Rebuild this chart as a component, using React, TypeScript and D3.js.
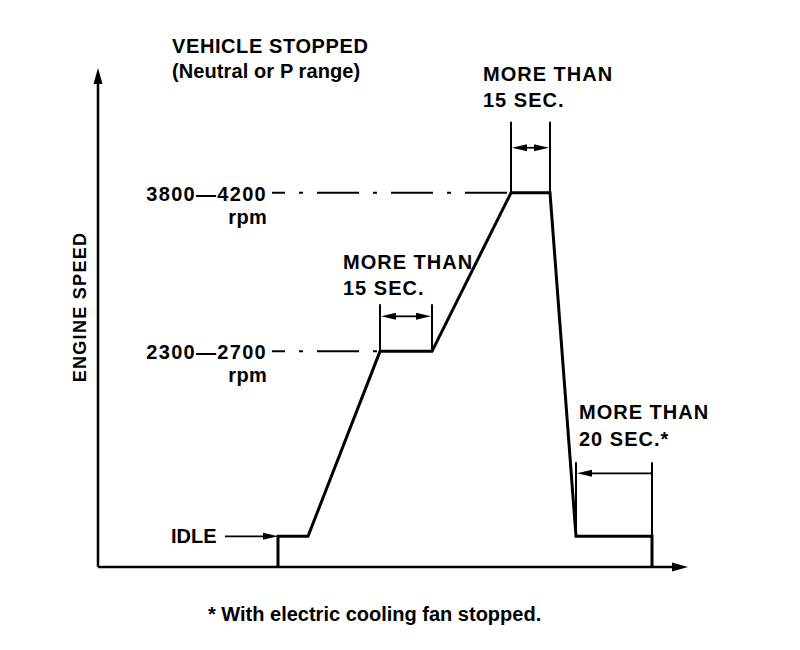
import React from "react";
import * as d3 from "d3";

// ---- data (schematic engine-speed procedure) ----
const timeDomain = [0, 118];
const rpmDomain = [460, 5180];
const phaseTimes = [36, 42, 56.4, 66.8, 82.6, 90.4, 95.6, 110.8];
const phaseRpm = [750, 750, 2500, 2500, 4000, 4000, 750, 750];
const levelRpm = [4000, 2500];
const levelText = ["3800\u20144200", "2300\u20142700"];
const levelUnit = ["rpm", "rpm"];
const holdStart = [56.4, 82.6, 95.6];
const holdEnd = [66.8, 90.4, 110.8];
const holdRpm = [2500, 4000, 750];
const holdLine1 = ["MORE THAN", "MORE THAN", "MORE THAN"];
const holdLine2 = ["15 SEC.", "15 SEC.", "20 SEC.*"];
const holdArrow = ["both", "both", "left"];
const idleRpm = 750;
const idleText = "IDLE";
const titleLines = ["VEHICLE STOPPED", "(Neutral or P range)"];
const yAxisTitle = "ENGINE SPEED";
const footnote = "* With electric cooling fan stopped.";

const W = 800;
const H = 650;
const FONT = "'Liberation Sans', Arial, Helvetica, sans-serif";

// layout for hold annotations
const holdLayout = [
  { tickUp: 47, arrowUp: 35, tx: -37, ty1: 269, ty2: 295 },
  { tickUp: 71, arrowUp: 45, tx: -28, ty1: 81, ty2: 107 },
  { tickUp: 74, arrowUp: 63, tx: 3, ty1: 419, ty2: 446 },
];

function Txt(props: any) {
  const { children, ls = 0, size = 20, ...rest } = props;
  return (
    <text
      fontFamily={FONT}
      fontSize={size}
      fontWeight="bold"
      letterSpacing={ls}
      fill="#000"
      {...rest}
    >
      {children}
    </text>
  );
}

export default function App() {
  const x = d3.scaleLinear().domain(timeDomain).range([98, 688]);
  const y = d3.scaleLinear().domain(rpmDomain).range([567, 68]);
  const x0 = x(timeDomain[0]);
  const y0 = y(rpmDomain[0]);
  const xEnd = x(timeDomain[1]);
  const yTop = y(rpmDomain[1]);

  const pts: [number, number][] = [
    [phaseTimes[0], rpmDomain[0]],
    ...phaseTimes.map((t, i) => [t, phaseRpm[i]] as [number, number]),
    [phaseTimes[phaseTimes.length - 1], rpmDomain[0]],
  ];
  const line = d3
    .line<[number, number]>()
    .x((d) => x(d[0]))
    .y((d) => y(d[1]));

  const head = (tx: number, ty: number, dir: "l" | "r" | "u", len = 14, hw = 4.5) => {
    if (dir === "r") return `M${tx},${ty} L${tx - len},${ty - hw} L${tx - len},${ty + hw} Z`;
    if (dir === "l") return `M${tx},${ty} L${tx + len},${ty - hw} L${tx + len},${ty + hw} Z`;
    return `M${tx},${ty} L${tx - hw},${ty + len} L${tx + hw},${ty + len} Z`;
  };

  const firstX = x(phaseTimes[0]);
  const idleY = y(idleRpm);

  return (
    <svg
      width={W}
      height={H}
      viewBox={`0 0 ${W} ${H}`}
      style={{ position: "absolute", left: 0, top: 0, background: "#fff" }}
    >
      <rect x={0} y={0} width={W} height={H} fill="#fff" />

      {/* axes */}
      <line x1={x0} y1={y0} x2={x0} y2={yTop + 12} stroke="#000" strokeWidth={2.5} />
      <path d={head(x0, yTop, "u", 16, 4.5)} fill="#000" />
      <line x1={x0} y1={y0} x2={xEnd - 12} y2={y0} stroke="#000" strokeWidth={2.5} />
      <path d={head(xEnd, y0, "r", 16, 4.5)} fill="#000" />

      {/* title */}
      <Txt x={172} y={53} ls={0.6}>{titleLines[0]}</Txt>
      <Txt x={172} y={78} ls={0.1}>{titleLines[1]}</Txt>

      {/* y axis title */}
      <Txt
        size={18}
        ls={1.3}
        textAnchor="middle"
        transform={`translate(86,307) rotate(-90)`}
      >
        {yAxisTitle}
      </Txt>

      {/* level guide lines and labels */}
      {levelRpm.map((r, i) => {
        const ly = y(r);
        const endX = x(i === 0 ? holdStart[1] : holdStart[0]);
        return (
          <g key={"lvl" + i}>
            <line
              x1={272}
              y1={ly}
              x2={endX}
              y2={ly}
              stroke="#000"
              strokeWidth={2}
              strokeDasharray="42 14 4 14"
              strokeDashoffset={29}
            />
            <Txt x={267} y={ly + 8} textAnchor="end" ls={1.3}>
              {levelText[i]}
            </Txt>
            <Txt x={267} y={ly + 31} textAnchor="end" ls={0.3}>
              {levelUnit[i]}
            </Txt>
          </g>
        );
      })}

      {/* idle label with arrow */}
      <Txt x={171} y={idleY + 7}>{idleText}</Txt>
      <line x1={225} y1={idleY} x2={firstX - 10} y2={idleY} stroke="#000" strokeWidth={1.8} />
      <path d={head(firstX, idleY, "r", 15, 3.5)} fill="#000" />

      {/* hold-time dimensions */}
      {holdStart.map((s, i) => {
        const xs = x(s);
        const xe = x(holdEnd[i]);
        const ly = y(holdRpm[i]);
        const L = holdLayout[i];
        const ay = ly - L.arrowUp;
        return (
          <g key={"hold" + i}>
            <line x1={xs} y1={ly - L.tickUp} x2={xs} y2={ly} stroke="#000" strokeWidth={2} />
            <line x1={xe} y1={ly - L.tickUp} x2={xe} y2={ly} stroke="#000" strokeWidth={2} />
            <line
              x1={xs + 10}
              y1={ay}
              x2={holdArrow[i] === "both" ? xe - 10 : xe}
              y2={ay}
              stroke="#000"
              strokeWidth={1.8}
            />
            <path d={head(xs + 1, ay, "l", 15, 3.5)} fill="#000" />
            {holdArrow[i] === "both" && <path d={head(xe - 1, ay, "r", 15, 3.5)} fill="#000" />}
            <Txt x={xs + L.tx} y={L.ty1} ls={1.0}>{holdLine1[i]}</Txt>
            <Txt x={xs + L.tx} y={L.ty2} ls={1.0}>{holdLine2[i]}</Txt>
          </g>
        );
      })}

      {/* engine speed profile */}
      <path
        d={line(pts) || ""}
        fill="none"
        stroke="#000"
        strokeWidth={3}
        strokeLinejoin="miter"
      />

      {/* footnote */}
      <Txt x={208} y={621}>{footnote}</Txt>
    </svg>
  );
}
